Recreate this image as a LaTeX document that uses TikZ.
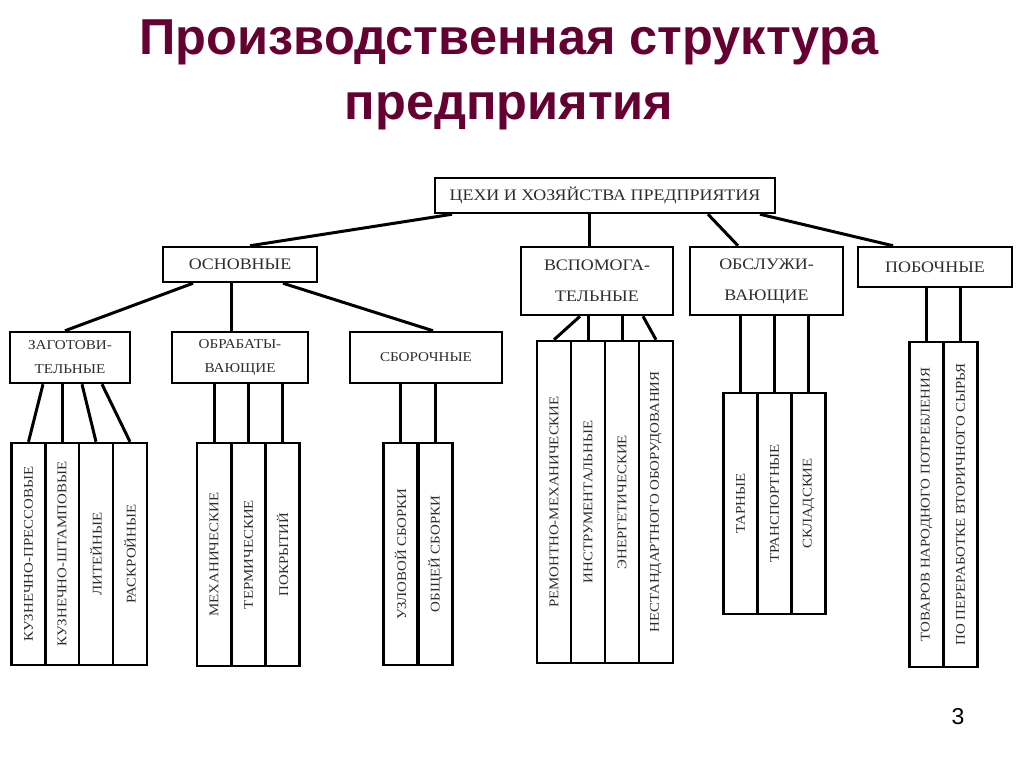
\documentclass[tikz,border=0pt]{standalone}
\usepackage{fontspec}
\setmainfont{Liberation Serif}
\newfontfamily\boxfont[FakeStretch=1.12]{Liberation Serif}
\newfontfamily\titlefont{Liberation Sans}
\definecolor{titlered}{RGB}{102,0,51}
\definecolor{inkgray}{RGB}{45,45,45}
\tikzset{
  box/.style={draw, line width=2.5pt, inner sep=1pt, align=center, text=inkgray},
  upper/.style={box, font=\boxfont\fontsize{16}{31}\selectfont},
  middle/.style={box, font=\boxfont\fontsize{13.5}{24}\selectfont},
  leaf/.style={box, minimum width=34, font=\boxfont\fontsize{13.3}{13}\selectfont},
  conn/.style={line width=3pt}
}
\begin{document}
\begin{tikzpicture}[x=1pt, y=-1pt]
\useasboundingbox[fill=white] (0,0) rectangle (1024,767);
\node[anchor=base, text=titlered, font=\titlefont\bfseries\fontsize{50.5}{58}\selectfont] (title1) at (509,55) {Производственная структура};
\node[anchor=base, text=titlered, font=\titlefont\bfseries\fontsize{50.5}{58}\selectfont] (title2) at (509,120) {предприятия};
\node[anchor=center, font=\titlefont\fontsize{23}{23}\selectfont] (pagenum) at (958,717) {3};

\node[upper, minimum width=340, minimum height=35] (shops) at (605,195.5) {ЦЕХИ И ХОЗЯЙСТВА ПРЕДПРИЯТИЯ};
\node[upper, minimum width=154, minimum height=35] (osn) at (240,264.5) {ОСНОВНЫЕ};
\node[upper, minimum width=152, minimum height=68] (vsp) at (597,281) {ВСПОМОГА-\\ТЕЛЬНЫЕ};
\node[upper, minimum width=153, minimum height=68] (obs) at (766.5,281) {ОБСЛУЖИ-\\ВАЮЩИЕ};
\node[upper, minimum width=154, minimum height=40] (pob) at (935,267) {ПОБОЧНЫЕ};

\draw[conn] ([xshift=-153]shops.south) -- ([xshift=10]osn.north);
\draw[conn] ([xshift=-16]shops.south) -- ([xshift=-8]vsp.north);
\draw[conn] ([xshift=103]shops.south) -- ([xshift=-28.5]obs.north);
\draw[conn] ([xshift=155]shops.south) -- ([xshift=-42]pob.north);

\node[middle, minimum width=120, minimum height=51] (zag) at (70,357.5) {ЗАГОТОВИ-\\ТЕЛЬНЫЕ};
\node[middle, minimum width=136, minimum height=51] (obr) at (240,357.5) {ОБРАБАТЫ-\\ВАЮЩИЕ};
\node[middle, minimum width=152, minimum height=51] (sbor) at (426,357.5) {СБОРОЧНЫЕ};

\draw[conn] ([xshift=-47]osn.south) -- ([xshift=-5]zag.north);
\draw[conn] ([xshift=-9]osn.south) -- ([xshift=-9]obr.north);
\draw[conn] ([xshift=43]osn.south) -- ([xshift=7]sbor.north);

\foreach \n/\x/\dx/\lab in {1/28.5/-27/{КУЗНЕЧНО-ПРЕССОВЫЕ}, 2/62/-8/{КУЗНЕЧНО-ШТАМПОВЫЕ}, 3/96/12/{ЛИТЕЙНЫЕ}, 4/130/32/{РАСКРОЙНЫЕ}} {
  \node[leaf, minimum height=222] (zag\n) at (\x,554) {\rotatebox{90}{\lab}};
  \draw[conn] ([xshift=\dx]zag.south) -- (zag\n.north);
}
\foreach \n/\x/\dx/\lab in {1/214/-26/{МЕХАНИЧЕСКИЕ}, 2/248.5/8.5/{ТЕРМИЧЕСКИЕ}, 3/282.5/42.5/{ПОКРЫТИЙ}} {
  \node[leaf, minimum height=223] (obr\n) at (\x,554.5) {\rotatebox{90}{\lab}};
  \draw[conn] ([xshift=\dx]obr.south) -- (obr\n.north);
}
\foreach \n/\x/\dx/\lab in {1/400.5/-25.5/{УЗЛОВОЙ СБОРКИ}, 2/435.5/9.5/{ОБЩЕЙ СБОРКИ}} {
  \node[leaf, minimum height=222] (sbor\n) at (\x,554) {\rotatebox{90}{\lab}};
  \draw[conn] ([xshift=\dx]sbor.south) -- (sbor\n.north);
}
\foreach \n/\x/\dx/\lab in {1/554/-17/{РЕМОНТНО-МЕХАНИЧЕСКИЕ}, 2/588/-9/{ИНСТРУМЕНТАЛЬНЫЕ}, 3/622/25/{ЭНЕРГЕТИЧЕСКИЕ}, 4/656/46/{НЕСТАНДАРТНОГО ОБОРУДОВАНИЯ}} {
  \node[leaf, minimum height=322] (vsp\n) at (\x,502) {\rotatebox{90}{\lab}};
  \draw[conn] ([xshift=\dx]vsp.south) -- (vsp\n.north);
}
\foreach \n/\x/\dx/\lab in {1/740.5/-26/{ТАРНЫЕ}, 2/774.5/8/{ТРАНСПОРТНЫЕ}, 3/808.5/42/{СКЛАДСКИЕ}} {
  \node[leaf, minimum height=221] (obs\n) at (\x,503.5) {\rotatebox{90}{\lab}};
  \draw[conn] ([xshift=\dx]obs.south) -- (obs\n.north);
}
\foreach \n/\x/\dx/\lab in {1/926.5/-8.5/{ТОВАРОВ НАРОДНОГО ПОТРЕБЛЕНИЯ}, 2/960.5/25.5/{ПО ПЕРЕРАБОТКЕ ВТОРИЧНОГО СЫРЬЯ}} {
  \node[leaf, minimum height=325] (pob\n) at (\x,504.5) {\rotatebox{90}{\lab}};
  \draw[conn] ([xshift=\dx]pob.south) -- (pob\n.north);
}
\end{tikzpicture}
\end{document}
